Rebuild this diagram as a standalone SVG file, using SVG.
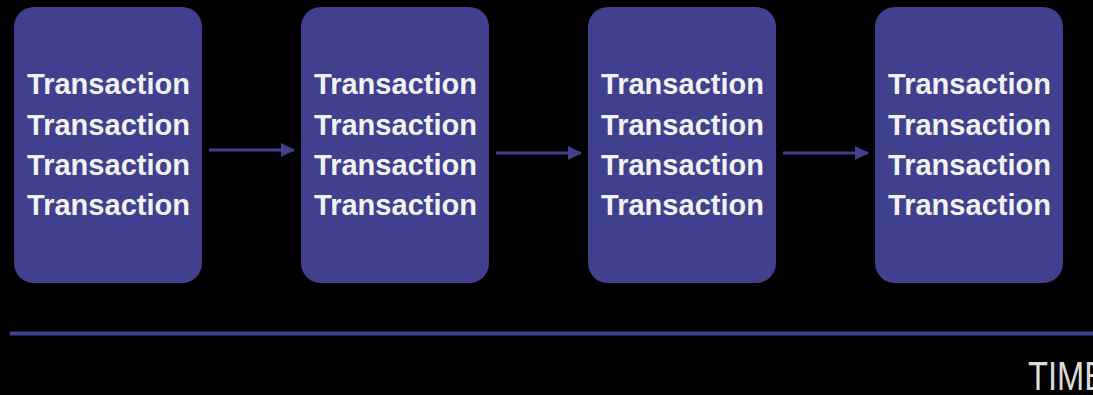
<svg xmlns="http://www.w3.org/2000/svg" width="1093" height="395" viewBox="0 0 1093 395">
<style>
.box{fill:#40408e;}
.t{font-family:"Liberation Sans",Arial,sans-serif;font-weight:bold;font-size:29px;fill:#f2f2f2;}
.c{stroke:#40408e;stroke-width:3;fill:none;}
</style>
<defs>
<marker id="ah" markerWidth="14" markerHeight="14" refX="13" refY="7" orient="auto" markerUnits="userSpaceOnUse">
<path d="M0,0 L14,7 L0,14 Z" fill="#40408e"/>
</marker>
</defs>
<rect width="1093" height="395" fill="#000"/>
<g id="block1">
<rect class="box" x="14" y="7" width="188" height="276" rx="20"/>
<text class="t" x="27" y="94" textLength="163">Transaction</text>
<text class="t" x="27" y="135" textLength="163">Transaction</text>
<text class="t" x="27" y="175" textLength="163">Transaction</text>
<text class="t" x="27" y="215" textLength="163">Transaction</text>
</g>
<g id="block2">
<rect class="box" x="301" y="7" width="188" height="276" rx="20"/>
<text class="t" x="314" y="94" textLength="163">Transaction</text>
<text class="t" x="314" y="135" textLength="163">Transaction</text>
<text class="t" x="314" y="175" textLength="163">Transaction</text>
<text class="t" x="314" y="215" textLength="163">Transaction</text>
</g>
<g id="block3">
<rect class="box" x="588" y="7" width="188" height="276" rx="20"/>
<text class="t" x="601" y="94" textLength="163">Transaction</text>
<text class="t" x="601" y="135" textLength="163">Transaction</text>
<text class="t" x="601" y="175" textLength="163">Transaction</text>
<text class="t" x="601" y="215" textLength="163">Transaction</text>
</g>
<g id="block4">
<rect class="box" x="875" y="7" width="188" height="276" rx="20"/>
<text class="t" x="888" y="94" textLength="163">Transaction</text>
<text class="t" x="888" y="135" textLength="163">Transaction</text>
<text class="t" x="888" y="175" textLength="163">Transaction</text>
<text class="t" x="888" y="215" textLength="163">Transaction</text>
</g>
<g id="connectors">
<line class="c" x1="209" y1="150" x2="294" y2="150" marker-end="url(#ah)"/>
<line class="c" x1="496" y1="153" x2="581" y2="153" marker-end="url(#ah)"/>
<line class="c" x1="783" y1="153" x2="868" y2="153" marker-end="url(#ah)"/>
</g>
<g id="timeline">
<line x1="10" y1="333.5" x2="1093" y2="333.5" stroke="#40408e" stroke-width="4"/>
<text x="1028" y="390" font-family="'Liberation Sans',Arial,sans-serif" font-size="40" fill="#dcdcdc" textLength="78" lengthAdjust="spacingAndGlyphs">TIME</text>
</g>
</svg>
